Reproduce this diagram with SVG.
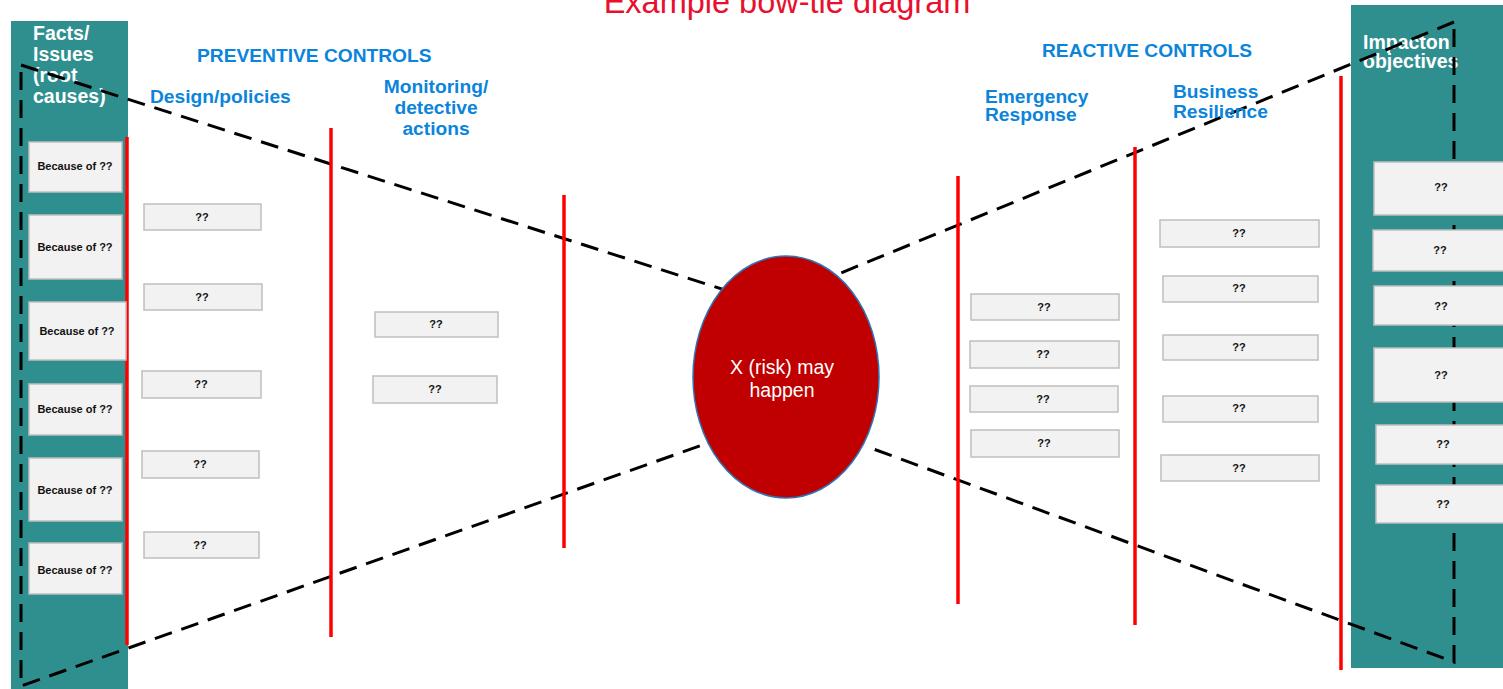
<svg xmlns="http://www.w3.org/2000/svg" width="1503" height="689" viewBox="0 0 1503 689">
<style>
.panel{fill:#2F8F8F}
.box{fill:#F2F2F2;stroke:#BFBFBF;stroke-width:1.5}
.bt{font-family:"Liberation Sans",Arial,sans-serif;font-weight:bold;font-size:11px;fill:#111;text-anchor:middle}
.head{font-family:"Liberation Sans",Arial,sans-serif;font-weight:bold;font-size:19.2px;fill:#0B84DB}
.wh{font-family:"Liberation Sans",Arial,sans-serif;font-weight:bold;font-size:19.5px;fill:#FFFFFF}
.red{stroke:#FF0000;stroke-width:3.5;fill:none}
.dash{stroke:#000;stroke-width:3;fill:none;stroke-dasharray:18 10}
</style>
<rect width="1503" height="689" fill="#FFFFFF"/>
<text x="787" y="13" font-family="Liberation Sans,Arial,sans-serif" font-size="32.5" fill="#E8102E" text-anchor="middle">Example bow-tie diagram</text>

<g id="left-panel">
<rect class="panel" x="11" y="21" width="117" height="668"/>
<text class="wh"><tspan x="33" y="40">Facts/</tspan><tspan x="33" y="61">Issues</tspan><tspan x="33" y="82">(root</tspan><tspan x="33" y="103">causes)</tspan></text>
</g>
<g id="right-panel">
<rect class="panel" x="1351" y="5" width="152" height="663"/>
<text class="wh"><tspan x="1363" y="49">Impacton</tspan><tspan x="1363" y="68">objectives</tspan></text>
</g>

<g id="connectors">
<path class="dash" d="M21 72 L21 686 L708 443"/>
<path class="dash" d="M21 65 L728 291"/>
<path class="dash" d="M1454 29 L1454 662 L868 447"/>
<path class="dash" d="M1454 22 L831 277"/>
<line class="red" x1="127" y1="137" x2="127" y2="645"/>
<line class="red" x1="331" y1="128" x2="331" y2="637"/>
<line class="red" x1="564" y1="195" x2="564" y2="548"/>
<line class="red" x1="958" y1="176" x2="958" y2="604"/>
<line class="red" x1="1135" y1="147" x2="1135" y2="625"/>
<line class="red" x1="1341" y1="76" x2="1341" y2="670"/>
</g>

<g id="headings">
<text class="head" x="197" y="62">PREVENTIVE CONTROLS</text>
<text class="head" x="150" y="103">Design/policies</text>
<text class="head" text-anchor="middle"><tspan x="436" y="93">Monitoring/</tspan><tspan x="436" y="114">detective</tspan><tspan x="436" y="135">actions</tspan></text>
<text class="head" x="1042" y="57">REACTIVE CONTROLS</text>
<text class="head"><tspan x="985" y="103">Emergency</tspan><tspan x="985" y="121">Response</tspan></text>
<text class="head"><tspan x="1173" y="98">Business</tspan><tspan x="1173" y="118">Resilience</tspan></text>
</g>

<g id="causes">
<g id="cause1"><rect class="box" x="29" y="142" width="93" height="50"/><text class="bt" x="75" y="170">Because of ??</text></g>
<g id="cause2"><rect class="box" x="29" y="215" width="93" height="64"/><text class="bt" x="75" y="251">Because of ??</text></g>
<g id="cause3"><rect class="box" x="29" y="302" width="97" height="58"/><text class="bt" x="77" y="335">Because of ??</text></g>
<g id="cause4"><rect class="box" x="29" y="384" width="93" height="51"/><text class="bt" x="75" y="413">Because of ??</text></g>
<g id="cause5"><rect class="box" x="29" y="458" width="93" height="63"/><text class="bt" x="75" y="494">Because of ??</text></g>
<g id="cause6"><rect class="box" x="29" y="543" width="93" height="51"/><text class="bt" x="75" y="574">Because of ??</text></g>
</g>

<g id="design">
<g id="d1"><rect class="box" x="144" y="204" width="117" height="26"/><text class="bt" x="202" y="221">??</text></g>
<g id="d2"><rect class="box" x="144" y="284" width="118" height="26"/><text class="bt" x="202" y="301">??</text></g>
<g id="d3"><rect class="box" x="142" y="371" width="119" height="27"/><text class="bt" x="201" y="388">??</text></g>
<g id="d4"><rect class="box" x="142" y="451" width="117" height="27"/><text class="bt" x="200" y="468">??</text></g>
<g id="d5"><rect class="box" x="144" y="532" width="115" height="26"/><text class="bt" x="200" y="549">??</text></g>
</g>

<g id="monitoring">
<g id="m1"><rect class="box" x="375" y="312" width="123" height="25"/><text class="bt" x="436" y="328">??</text></g>
<g id="m2"><rect class="box" x="373" y="376" width="124" height="27"/><text class="bt" x="435" y="393">??</text></g>
</g>

<g id="risk">
<ellipse cx="786" cy="377" rx="93" ry="121" fill="#C00000" stroke="#2E75B6" stroke-width="1.5"/>
<text font-family="Liberation Sans,Arial,sans-serif" font-size="19.5" fill="#FFFFFF" text-anchor="middle"><tspan x="782" y="374">X (risk) may</tspan><tspan x="782" y="397">happen</tspan></text>
</g>

<g id="emergency">
<g id="e1"><rect class="box" x="971" y="294" width="148" height="26"/><text class="bt" x="1044" y="311">??</text></g>
<g id="e2"><rect class="box" x="970" y="341" width="149" height="27"/><text class="bt" x="1043" y="358">??</text></g>
<g id="e3"><rect class="box" x="970" y="386" width="148" height="26"/><text class="bt" x="1043" y="403">??</text></g>
<g id="e4"><rect class="box" x="971" y="430" width="148" height="27"/><text class="bt" x="1044" y="447">??</text></g>
</g>

<g id="business">
<g id="b1"><rect class="box" x="1160" y="220" width="159" height="27"/><text class="bt" x="1239" y="237">??</text></g>
<g id="b2"><rect class="box" x="1163" y="276" width="155" height="26"/><text class="bt" x="1239" y="292">??</text></g>
<g id="b3"><rect class="box" x="1163" y="335" width="155" height="25"/><text class="bt" x="1239" y="351">??</text></g>
<g id="b4"><rect class="box" x="1163" y="396" width="155" height="26"/><text class="bt" x="1239" y="412">??</text></g>
<g id="b5"><rect class="box" x="1161" y="455" width="158" height="26"/><text class="bt" x="1239" y="472">??</text></g>
</g>

<g id="impacts">
<g id="i1"><rect class="box" x="1374" y="162" width="135" height="53"/><text class="bt" x="1441" y="191">??</text></g>
<g id="i2"><rect class="box" x="1373" y="230" width="136" height="41"/><text class="bt" x="1440" y="254">??</text></g>
<g id="i3"><rect class="box" x="1374" y="286" width="135" height="39"/><text class="bt" x="1441" y="310">??</text></g>
<g id="i4"><rect class="box" x="1374" y="348" width="135" height="54"/><text class="bt" x="1441" y="379">??</text></g>
<g id="i5"><rect class="box" x="1376" y="425" width="133" height="39"/><text class="bt" x="1443" y="448">??</text></g>
<g id="i6"><rect class="box" x="1376" y="485" width="133" height="38"/><text class="bt" x="1443" y="508">??</text></g>
</g>
</svg>
